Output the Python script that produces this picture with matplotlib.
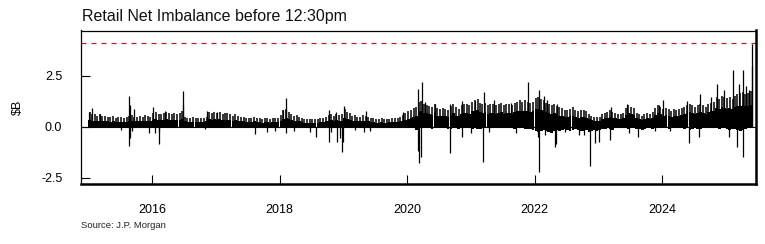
import matplotlib
matplotlib.use("Agg")
import matplotlib.pyplot as plt
import pandas as pd

plt.rcParams['font.family'] = ['Liberation Sans', 'DejaVu Sans']

# Semi-monthly solid floor of the daily net imbalance ($B), Jan 2015 .. May 2025
floor_2015 = [0.35, 0.3, 0.3, 0.3, 0.3, 0.28, 0.28, 0.27, 0.25, 0.27, 0.25, 0.25,
              0.25, 0.24, 0.25, 0.28, 0.3, 0.28, 0.27, 0.3, 0.28, 0.3, 0.3, 0.27]
floor_2016 = [0.35, 0.38, 0.35, 0.32, 0.35, 0.38, 0.35, 0.32, 0.35, 0.32, 0.35, 0.4,
              0.27, 0.24, 0.22, 0.24, 0.24, 0.22, 0.24, 0.24, 0.27, 0.38, 0.35, 0.38]
floor_2017 = [0.35, 0.38, 0.32, 0.35, 0.35, 0.32, 0.3, 0.32, 0.3, 0.27, 0.27, 0.24,
              0.24, 0.24, 0.27, 0.24, 0.24, 0.2, 0.24, 0.22, 0.2, 0.24, 0.24, 0.22]
floor_2018 = [0.3, 0.38, 0.42, 0.38, 0.32, 0.3, 0.3, 0.27, 0.24, 0.2, 0.2, 0.18,
              0.2, 0.18, 0.2, 0.24, 0.24, 0.27, 0.3, 0.32, 0.3, 0.32, 0.3, 0.3]
floor_2019 = [0.42, 0.38, 0.35, 0.3, 0.3, 0.27, 0.27, 0.3, 0.3, 0.27, 0.24, 0.22,
              0.2, 0.2, 0.24, 0.2, 0.2, 0.22, 0.24, 0.22, 0.24, 0.27, 0.3, 0.35]
floor_2020 = [0.4, 0.45, 0.5, 0.55, 0.7, 0.75, 0.68, 0.65, 0.6, 0.58, 0.65, 0.55,
              0.52, 0.55, 0.52, 0.48, 0.58, 0.65, 0.55, 0.52, 0.6, 0.65, 0.68, 0.62]
floor_2021 = [0.75, 0.78, 0.8, 0.7, 0.68, 0.7, 0.62, 0.68, 0.68, 0.62, 0.68, 0.7,
              0.62, 0.68, 0.68, 0.62, 0.7, 0.75, 0.78, 0.75, 0.78, 0.75, 0.72, 0.75]
floor_2022 = [0.85, 0.88, 0.8, 0.75, 0.7, 0.68, 0.62, 0.68, 0.6, 0.55, 0.52, 0.48,
              0.48, 0.52, 0.55, 0.48, 0.45, 0.48, 0.48, 0.45, 0.36, 0.32, 0.28, 0.28]
floor_2023 = [0.3, 0.4, 0.42, 0.45, 0.5, 0.45, 0.42, 0.4, 0.4, 0.42, 0.58, 0.65,
              0.6, 0.58, 0.42, 0.4, 0.35, 0.4, 0.42, 0.4, 0.45, 0.58, 0.65, 0.6]
floor_2024 = [0.55, 0.58, 0.55, 0.48, 0.55, 0.52, 0.55, 0.58, 0.62, 0.68, 0.7, 0.68,
              0.62, 0.68, 0.7, 0.68, 0.62, 0.7, 0.75, 0.78, 0.9, 0.85, 0.95, 0.9]
floor_2025 = [0.88, 0.9, 0.85, 0.95, 1.0, 1.02, 1.08, 1.0, 1.02, 1.08]

# Semi-monthly highest ordinary day ($B)
peak_2015 = [0.73, 0.6, 0.62, 0.55, 0.6, 0.52, 0.55, 0.5, 0.48, 0.52, 0.45, 0.5,
             0.46, 0.44, 0.5, 0.55, 0.58, 0.5, 0.48, 0.55, 0.5, 0.56, 0.55, 0.5]
peak_2016 = [0.65, 0.7, 0.62, 0.6, 0.68, 0.72, 0.65, 0.6, 0.68, 0.6, 0.65, 0.78,
             0.5, 0.45, 0.42, 0.46, 0.45, 0.42, 0.45, 0.44, 0.5, 0.72, 0.66, 0.7]
peak_2017 = [0.68, 0.72, 0.6, 0.66, 0.65, 0.6, 0.55, 0.62, 0.55, 0.5, 0.5, 0.45,
             0.44, 0.45, 0.5, 0.44, 0.45, 0.4, 0.45, 0.42, 0.4, 0.45, 0.44, 0.42]
peak_2018 = [0.58, 0.82, 0.85, 0.72, 0.62, 0.55, 0.56, 0.5, 0.45, 0.4, 0.38, 0.36,
             0.4, 0.36, 0.4, 0.45, 0.45, 0.5, 0.56, 0.62, 0.55, 0.62, 0.56, 0.6]
peak_2019 = [0.85, 0.72, 0.66, 0.55, 0.56, 0.5, 0.5, 0.56, 0.55, 0.5, 0.45, 0.42,
             0.38, 0.38, 0.45, 0.38, 0.38, 0.4, 0.45, 0.42, 0.45, 0.5, 0.56, 0.68]
peak_2020 = [0.75, 0.82, 0.9, 0.95, 1.2, 1.25, 1.1, 1.05, 1.0, 0.95, 1.1, 0.9,
             0.85, 0.92, 0.88, 0.8, 1.0, 1.1, 0.95, 0.88, 1.05, 1.1, 1.12, 1.05]
peak_2021 = [1.2, 1.3, 1.35, 1.15, 1.1, 1.15, 1.05, 1.1, 1.1, 1.05, 1.1, 1.15,
             1.05, 1.1, 1.1, 1.05, 1.15, 1.2, 1.3, 1.2, 1.3, 1.2, 1.15, 1.2]
peak_2022 = [1.4, 1.45, 1.35, 1.3, 1.15, 1.1, 1.05, 1.1, 1.0, 0.95, 0.9, 0.82,
             0.82, 0.88, 0.95, 0.82, 0.78, 0.82, 0.82, 0.78, 0.62, 0.55, 0.5, 0.5]
peak_2023 = [0.5, 0.62, 0.68, 0.72, 0.8, 0.72, 0.68, 0.62, 0.62, 0.68, 0.9, 1.05,
             0.95, 0.9, 0.68, 0.62, 0.55, 0.62, 0.68, 0.62, 0.72, 0.9, 1.05, 0.95]
peak_2024 = [0.85, 0.9, 0.85, 0.75, 0.85, 0.8, 0.85, 0.9, 0.95, 1.05, 1.1, 1.05,
             0.95, 1.05, 1.1, 1.05, 0.95, 1.1, 1.15, 1.2, 1.45, 1.35, 1.5, 1.45]
peak_2025 = [1.4, 1.45, 1.35, 1.5, 1.6, 1.65, 1.7, 1.6, 1.65, 1.75]

# Semi-monthly small negative fringe ($B), Jan 2020 .. May 2025
neg_2020 = [-0.03, -0.03, -0.05, -0.15, -0.1, -0.08, -0.05, -0.05, -0.08, -0.1, -0.05, -0.08,
            -0.05, -0.05, -0.08, -0.1, -0.12, -0.08, -0.05, -0.1, -0.08, -0.05, -0.05, -0.08]
neg_2021 = [-0.1, -0.08, -0.12, -0.1, -0.08, -0.05, -0.05, -0.08, -0.05, -0.05, -0.08, -0.05,
            -0.05, -0.08, -0.05, -0.05, -0.1, -0.08, -0.05, -0.08, -0.1, -0.12, -0.1, -0.15]
neg_2022 = [-0.2, -0.25, -0.2, -0.15, -0.2, -0.25, -0.3, -0.2, -0.15, -0.2, -0.15, -0.1,
            -0.15, -0.2, -0.15, -0.1, -0.15, -0.2, -0.2, -0.15, -0.25, -0.2, -0.15, -0.2]
neg_2023 = [-0.15, -0.1, -0.12, -0.08, -0.1, -0.15, -0.08, -0.05, -0.05, -0.08, -0.05, -0.1,
            -0.08, -0.05, -0.1, -0.12, -0.15, -0.1, -0.08, -0.05, -0.1, -0.08, -0.05, -0.05]
neg_2024 = [-0.05, -0.08, -0.1, -0.08, -0.05, -0.08, -0.05, -0.05, -0.1, -0.08, -0.15, -0.1,
            -0.08, -0.12, -0.1, -0.05, -0.05, -0.08, -0.05, -0.05, -0.08, -0.1, -0.05, -0.08]
neg_2025 = [-0.1, -0.15, -0.12, -0.1, -0.15, -0.2, -0.15, -0.1, -0.08, -0.05]

# Individual large days ($B)
spike_dates = ['2015-01-06', '2015-01-22', '2015-03-10', '2015-08-24', '2015-08-26',
               '2015-09-21', '2016-01-04', '2016-03-15', '2016-06-24', '2016-06-27',
               '2016-11-10', '2017-01-05', '2018-01-22', '2018-02-06', '2018-02-09',
               '2018-10-12', '2018-11-20', '2019-01-04', '2019-05-13', '2019-12-10',
               '2020-03-03', '2020-03-24', '2020-04-15', '2020-06-10', '2020-09-03',
               '2020-11-10', '2021-01-27', '2021-03-15', '2021-05-12', '2021-08-20',
               '2021-11-26', '2022-01-24', '2022-02-24', '2022-03-10', '2022-05-10',
               '2023-03-13', '2023-06-15', '2023-12-14', '2024-01-05', '2024-05-20',
               '2024-08-05', '2024-10-10', '2024-11-12', '2024-12-18', '2025-02-10',
               '2025-03-14', '2025-04-07', '2025-04-25', '2025-05-15', '2025-05-29',
               '2025-05-30']
spike_values = [0.73, 0.9, 0.6, 1.5, 1.05,
                0.87, 0.96, 0.75, 1.75, 1.06,
                0.75, 0.72, 0.82, 1.4, 0.85,
                0.8, 0.73, 1.0, 0.77, 0.7,
                1.83, 2.18, 1.2, 1.1, 1.1,
                1.26, 1.25, 1.68, 1.3, 1.15,
                2.18, 1.8, 1.5, 1.3, 1.1,
                0.95, 1.1, 1.05, 1.3, 1.25,
                1.6, 1.45, 2.12, 1.8, 2.78,
                2.12, 2.78, 2.0, 1.8, 3.0,
                4.08]

neg_dates = ['2015-07-10', '2015-08-24', '2015-08-25', '2015-09-10', '2015-12-14',
             '2016-01-20', '2016-02-08', '2016-02-11', '2016-11-02', '2017-08-10',
             '2017-10-20', '2017-12-05', '2018-02-05', '2018-03-22', '2018-06-25',
             '2018-07-30', '2018-10-11', '2018-10-25', '2018-11-23', '2018-12-10',
             '2018-12-24', '2018-12-28', '2019-03-08', '2019-05-01', '2019-06-03',
             '2020-03-03', '2020-03-12', '2020-03-20', '2020-09-05', '2020-11-10',
             '2021-01-04', '2021-03-10', '2021-04-12', '2021-09-14', '2022-01-18',
             '2022-01-26', '2022-02-28', '2022-04-28', '2022-05-06', '2022-06-24',
             '2022-09-12', '2022-10-12', '2022-11-14', '2022-12-12', '2023-01-03',
             '2023-03-08', '2023-06-25', '2023-08-18', '2023-11-24', '2024-02-18',
             '2024-06-03', '2024-07-30', '2025-01-20', '2025-03-04', '2025-04-10']
neg_values = [-0.15, -0.93, -0.57, -0.2, -0.33,
              -0.3, -0.85, -0.25, -0.13, -0.38,
              -0.25, -0.2, -0.3, -0.2, -0.25,
              -0.5, -0.73, -0.25, -0.73, -0.57,
              -1.26, -0.73, -0.15, -0.25, -0.2,
              -1.18, -1.76, -1.5, -1.27, -0.5,
              -0.3, -1.72, -0.25, -0.3, -0.5,
              -2.2, -0.4, -1.0, -0.85, -0.25,
              -0.4, -0.4, -1.93, -0.8, -0.75,
              -0.65, -0.3, -0.5, -0.2, -0.2,
              -0.82, -0.5, -0.5, -0.98, -1.47]

threshold = 4.09
yticks = [-2.5, 0.0, 2.5]
ytick_labels = ['-2.5', '0.0', '2.5']
xtick_years = [2016, 2018, 2020, 2022, 2024]

floors = (floor_2015 + floor_2016 + floor_2017 + floor_2018 + floor_2019 + floor_2020
          + floor_2021 + floor_2022 + floor_2023 + floor_2024 + floor_2025)
peaks = (peak_2015 + peak_2016 + peak_2017 + peak_2018 + peak_2019 + peak_2020
         + peak_2021 + peak_2022 + peak_2023 + peak_2024 + peak_2025)
negs = neg_2020 + neg_2021 + neg_2022 + neg_2023 + neg_2024 + neg_2025
period_dates = pd.date_range('2015-01-01', periods=len(floors), freq='SMS')
peak_dates = period_dates + pd.Timedelta(days=7)
neg_period_dates = pd.date_range('2020-01-01', periods=len(negs), freq='SMS')

fig = plt.figure(figsize=(7.65, 2.44), dpi=100)
ax = fig.add_axes([81 / 765, 1 - 184 / 244, 675 / 765, 153.5 / 244])

ax.bar(period_dates, floors, width=16, align='edge', color='black', linewidth=0)
ax.bar(neg_period_dates, negs, width=16, align='edge', color='black', linewidth=0)
ax.vlines(peak_dates, 0, peaks, color='black', linewidth=1.1)
ax.vlines(pd.to_datetime(spike_dates), 0, spike_values, color='black', linewidth=0.9)
ax.vlines(pd.to_datetime(neg_dates), 0, neg_values, color='black', linewidth=0.9)
ax.axhline(0, color='black', linewidth=0.8)
ax.axhline(threshold, color='#b0282a', linewidth=0.9, dashes=(4, 4))

ax.set_xlim(pd.Timestamp('2014-11-20'), pd.Timestamp('2025-06-22'))
ax.set_ylim(-2.81, 4.72)
ax.set_yticks(yticks)
ax.set_yticklabels(ytick_labels)
ax.set_xticks([pd.Timestamp(f'{y}-01-01') for y in xtick_years])
ax.set_xticklabels([str(y) for y in xtick_years])

ax.tick_params(axis='both', direction='in', length=6.5, width=0.8, labelsize=9,
               colors='black')
ax.tick_params(axis='y', pad=13.5)
ax.tick_params(axis='x', pad=14.5)

for side in ['top', 'left']:
    ax.spines[side].set_linewidth(0.9)
for side in ['bottom', 'right']:
    ax.spines[side].set_linewidth(1.8)

ax.set_ylabel('$B', fontsize=9, labelpad=12)
fig.text(82 / 765, 1 - 21 / 244, 'Retail Net Imbalance before 12:30pm', fontsize=11.5,
         ha='left', va='baseline', color='#111111')
fig.text(81 / 765, 1 - 226 / 244, 'Source: J.P. Morgan', fontsize=6.8,
         ha='left', va='center', color='#222222')

fig.savefig('out.png', dpi=100)
